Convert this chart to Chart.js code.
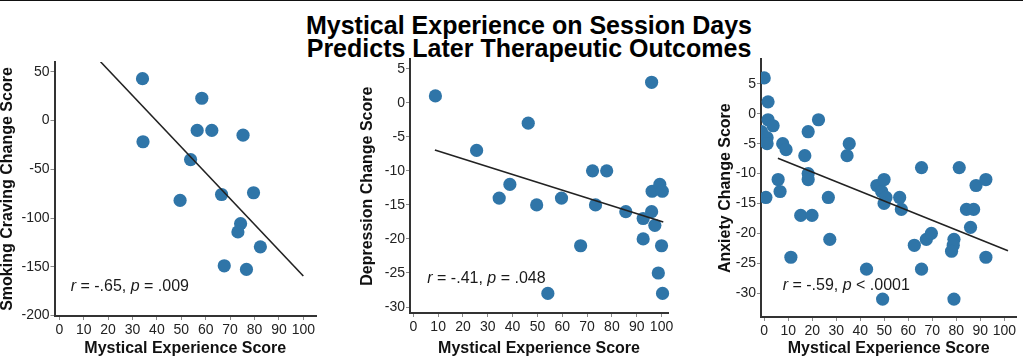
<!DOCTYPE html>
<html>
<head>
<meta charset="utf-8">
<script src="https://cdn.jsdelivr.net/npm/chart.js@4.4.1/dist/chart.umd.min.js"></script>
<style>
  html, body { margin: 0; padding: 0; background: #fff; }
  body { width: 1023px; height: 357px; position: relative; overflow: hidden; font-family: 'Liberation Sans', Arial, sans-serif; }
  .topline { position: absolute; left: 0; top: 0; width: 1023px; height: 1px; background: #111; }
  .title { position: absolute; left: 229px; width: 600px; top: 13.6px; text-align: center; font-weight: bold; font-size: 25px; line-height: 23.5px; color: #000; }
  .panel { position: absolute; top: 50px; height: 307px; }
  .note { position: absolute; font-size: 16px; line-height: 16px; color: #1a1a1a; white-space: nowrap; }
</style>
</head>
<body>
<div class="topline"></div>
<div class="title">Mystical Experience on Session Days<br>Predicts Later Therapeutic Outcomes</div>
<div class="panel" style="left:0px;width:330px;"><canvas id="c1"></canvas></div>
<div class="panel" style="left:360px;width:320px;"><canvas id="c2"></canvas></div>
<div class="panel" style="left:718px;width:305px;"><canvas id="c3"></canvas></div>
<div class="note" style="left:70.7px;top:278px;"><i>r</i> = -.65, <i>p</i> = .009</div>
<div class="note" style="left:427.3px;top:270px;"><i>r</i> = -.41, <i>p</i> = .048</div>
<div class="note" style="left:782.7px;top:277px;"><i>r</i> = -.59, <i>p</i> &lt; .0001</div>
<script>
// ---- Data ----
const xTickValues = [0, 10, 20, 30, 40, 50, 60, 70, 80, 90, 100];

const smokingX = [34.1, 58.4, 56.5, 62.5, 75.3, 34.3, 53.8, 49.5, 66.5, 79.6, 74.3, 73.2, 82.4, 67.6, 76.7];
const smokingY = [42.9, 22.8, -10.2, -10.2, -15.0, -21.8, -40.1, -82.0, -75.9, -74.1, -105.8, -114.3, -129.6, -149.0, -152.7];
const smokingFitX = [16.9, 100];
const smokingFitY = [60.2, -159.5];
const smokingYTicks = [50, 0, -50, -100, -150, -200];

const depressionX = [8.9, 96.0, 46.3, 25.5, 34.6, 38.9, 49.7, 59.7, 72.2, 77.9, 73.4, 67.4, 54.2, 85.6, 92.6, 96.0, 96.2, 99.3, 100.3, 97.3, 92.6, 100.0, 98.7, 100.4];
const depressionY = [1, 3, -3, -7, -14, -12, -15, -14, -10, -10, -15, -21, -28, -16, -17, -16, -13, -12, -13, -18, -20, -21, -25, -28];
const depressionFitX = [8.7, 100.7];
const depressionFitY = [-6.94, -17.5];
const depressionYTicks = [5, 0, -5, -10, -15, -20, -25, -30];

const anxietyX = [0, 1.6, 1.6, 3.7, -1.1, 1.2, 1.2, 7.7, 9.1, 5.8, 6.6, 0.7, 16.9, 18.3, 22.6, 18.3, 18.3, 15.2, 19.9, 26.7, 27.3, 11.1, 34.5, 35.4, 42.6, 46.9, 48.9, 49.9, 50.7, 49.9, 49.3, 56.4, 57.1, 62.5, 65.5, 65.5, 67.5, 69.6, 79, 78.7, 78, 79, 81.2, 84.2, 87.2, 85.9, 88.2, 92.3, 92.3];
const anxietyY = [6, 2, -1, -2, -3, -4, -5, -5, -6, -11, -13, -14, -7, -3, -1, -10, -11, -17, -17, -14, -21, -24, -7, -5, -26, -12, -13, -11, -14, -15, -31, -14, -16, -22, -9, -26, -21, -20, -21, -22, -23, -31, -9, -16, -16, -19, -12, -11, -24];
const anxietyFitX = [5.7, 101.5];
const anxietyFitY = [-7.44, -22.9];
const anxietyYTicks = [5, 0, -5, -10, -15, -20, -25, -30];

// ---- Styles ----
const DOT = '#2f75a8';
Chart.defaults.font.family = "'Liberation Sans', Arial, sans-serif";
Chart.defaults.color = '#222';

function pts(xs, ys) { return xs.map((x, i) => ({ x: x, y: ys[i] })); }

function makePanel(id, cfg) {
  const axisCommon = {
    type: 'linear',
    grid: { drawOnChartArea: false, drawTicks: true, tickLength: 4, color: '#8a8a8a', lineWidth: 1 },
    border: { display: true, color: '#333', width: 2 },
  };
  new Chart(document.getElementById(id), {
    type: 'scatter',
    data: {
      datasets: [
        {
          data: pts(cfg.x, cfg.y),
          backgroundColor: DOT,
          borderWidth: 0,
          pointRadius: 6.6,
          pointHoverRadius: 6.6,
          clip: { left: 0, top: 10, right: 10, bottom: 10 },
          order: 2
        },
        {
          type: 'line',
          data: pts(cfg.fitX, cfg.fitY),
          borderColor: '#222',
          borderWidth: 1.6,
          pointRadius: 0,
          fill: false,
          tension: 0,
          clip: 0,
          order: 1
        }
      ]
    },
    options: {
      responsive: true,
      maintainAspectRatio: false,
      animation: false,
      events: [],
      layout: { padding: { top: cfg.padTop, right: cfg.padRight, left: 0, bottom: 0 } },
      plugins: { legend: { display: false }, title: { display: false }, tooltip: { enabled: false } },
      scales: {
        x: Object.assign({}, axisCommon, {
          position: 'bottom',
          min: cfg.xMin, max: cfg.xMax,
          afterBuildTicks: (s) => { s.ticks = xTickValues.map(v => ({ value: v })); },
          afterFit: (s) => { s.height = cfg.xHeight; },
          ticks: { autoSkip: false, maxRotation: 0, minRotation: 0, padding: 2, font: { size: 14 }, color: '#222' },
          title: { display: true, text: 'Mystical Experience Score', font: { size: 16, weight: 'bold', lineHeight: 1 }, padding: 0, color: '#111' }
        }),
        y: Object.assign({}, axisCommon, {
          position: 'left',
          min: cfg.yMin, max: cfg.yMax,
          afterBuildTicks: (s) => { s.ticks = cfg.yTicks.map(v => ({ value: v })); },
          afterFit: (s) => { s.width = cfg.yWidth; },
          ticks: { autoSkip: false, padding: 1, font: { size: 14 }, color: '#222' },
          title: { display: true, text: cfg.yTitle, font: { size: 16, weight: 'bold', lineHeight: 1 }, padding: 0, color: '#111' }
        })
      }
    }
  });
}

makePanel('c1', {
  x: smokingX, y: smokingY, fitX: smokingFitX, fitY: smokingFitY, yTicks: smokingYTicks,
  yTitle: 'Smoking Craving Change Score',
  xMin: -1.97, xMax: 105.2, yMin: -200.5, yMax: 60,
  padTop: 12, padRight: 14, yWidth: 54.5, xHeight: 41
});
makePanel('c2', {
  x: depressionX, y: depressionY, fitX: depressionFitX, fitY: depressionFitY, yTicks: depressionYTicks,
  yTitle: 'Depression Change Score',
  xMin: -1.33, xMax: 102.6, yMin: -30.875, yMax: 6.36,
  padTop: 8, padRight: 12, yWidth: 50, xHeight: 44
});
makePanel('c3', {
  x: anxietyX, y: anxietyY, fitX: anxietyFitX, fitY: anxietyFitY, yTicks: anxietyYTicks,
  yTitle: 'Anxiety Change Score',
  xMin: -1.34, xMax: 105, yMin: -34, yMax: 9.1,
  padTop: 8, padRight: 0, yWidth: 43, xHeight: 40
});
</script>
</body>
</html>
